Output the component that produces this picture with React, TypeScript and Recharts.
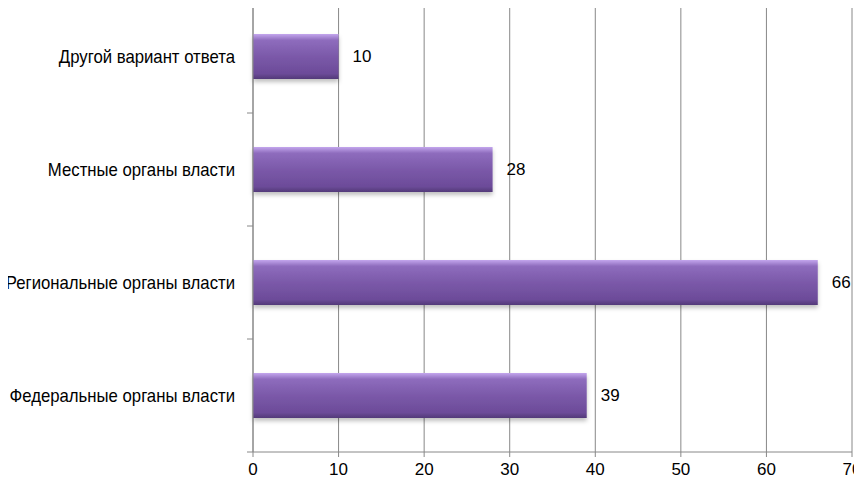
import { BarChart, Bar, XAxis, YAxis, CartesianGrid, LabelList } from 'recharts';

const categories = [
  'Другой вариант ответа',
  'Местные органы власти',
  'Региональные органы власти',
  'Федеральные органы власти',
];
const values = [10, 28, 66, 39];
const xTicks = [0, 10, 20, 30, 40, 50, 60, 70];

const data = categories.map((name, i) => ({ name, value: values[i] }));

const FONT = '"Liberation Sans", Arial, sans-serif';

export default function App() {
  // narrow-looking category labels, plus tick marks on the band boundaries
  const YTick = ({ x, y, payload, index }: any) => {
    const band = 452 / categories.length;
    return (
      <g>
        <line x1={x + 2} x2={x + 8} y1={y - band / 2} y2={y - band / 2} stroke="#888" />
        {index === categories.length - 1 && (
          <line x1={x + 2} x2={x + 8} y1={y + band / 2} y2={y + band / 2} stroke="#888" />
        )}
        <g transform={`translate(${x - 10},${y}) scale(0.905,1)`}>
          <text x={0} y={0} dy={6.5} textAnchor="end" fill="#000" fontSize={18.5} fontFamily={FONT}>
            {payload.value}
          </text>
        </g>
      </g>
    );
  };

  const XTick = ({ x, y, payload }: any) => (
    <text x={x} y={y} dy={16} textAnchor="middle" fill="#000" fontSize={17} fontFamily={FONT}>
      {payload.value}
    </text>
  );

  return (
    <div style={{ margin: -8, width: 862, height: 485, background: '#fff' }}>
      <BarChart
        width={862}
        height={485}
        data={data}
        layout="vertical"
        margin={{ top: 0, right: 10, bottom: 0, left: 0 }}
        barCategoryGap="30%"
      >
        <defs>
          <linearGradient id="barFill" x1="0" y1="0" x2="0" y2="1">
            <stop offset="0%" stopColor="#c4a7ee" />
            <stop offset="14%" stopColor="#8e6cbd" />
            <stop offset="50%" stopColor="#7b59a9" />
            <stop offset="88%" stopColor="#6c4b99" />
            <stop offset="100%" stopColor="#533a79" />
          </linearGradient>
          <filter id="barShadow" x="-5%" y="-20%" width="110%" height="150%">
            <feDropShadow dx="0" dy="3" stdDeviation="2" floodColor="#000" floodOpacity="0.25" />
          </filter>
        </defs>
        <CartesianGrid horizontal={false} stroke="#888" strokeWidth={1} />
        <XAxis
          type="number"
          domain={[0, 70]}
          ticks={xTicks}
          interval={0}
          height={33}
          axisLine={{ stroke: '#888' }}
          tickLine={{ stroke: '#888' }}
          tickSize={5}
          tick={<XTick />}
        />
        <YAxis
          type="category"
          dataKey="name"
          width={253}
          axisLine={{ stroke: '#888' }}
          tickLine={false}
          tick={<YTick />}
          interval={0}
        />
        <Bar dataKey="value" fill="url(#barFill)" filter="url(#barShadow)" isAnimationActive={false}>
          <LabelList
            dataKey="value"
            position="right"
            offset={14}
            fill="#000"
            fontSize={17}
            fontFamily={FONT}
          />
        </Bar>
      </BarChart>
    </div>
  );
}
